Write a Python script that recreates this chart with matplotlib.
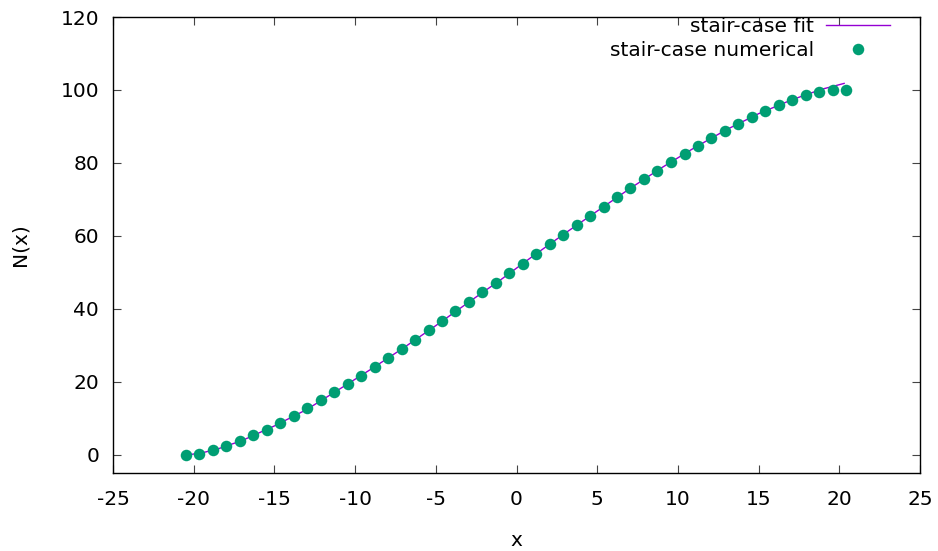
import matplotlib
matplotlib.use("Agg")
import matplotlib.pyplot as plt

# numerical stair-case
x_num = [-20.48, -19.67, -18.82, -17.99, -17.14, -16.32, -15.49, -14.64, -13.81, -12.96,
         -12.14, -11.30, -10.46, -9.63, -8.78, -7.98, -7.12, -6.30, -5.45, -4.62,
         -3.79, -2.96, -2.14, -1.29, -0.46, 0.39, 1.22, 2.05, 2.88, 3.73,
         4.57, 5.40, 6.23, 7.06, 7.91, 8.73, 9.57, 10.41, 11.24, 12.07,
         12.89, 13.75, 14.57, 15.40, 16.25, 17.08, 17.91, 18.73, 19.58, 20.41]
n_num = [0.0, 0.3, 1.3, 2.4, 3.8, 5.3, 6.9, 8.8, 10.7, 12.7,
         14.9, 17.1, 19.3, 21.7, 24.1, 26.5, 29.0, 31.5, 34.1, 36.6,
         39.3, 41.8, 44.5, 47.0, 49.7, 52.4, 55.1, 57.7, 60.3, 62.9,
         65.5, 68.0, 70.6, 73.1, 75.5, 77.9, 80.3, 82.5, 84.7, 86.9,
         88.8, 90.8, 92.6, 94.3, 95.9, 97.3, 98.5, 99.5, 100.0, 100.0]

# fitted curve
x_fit = [-20.5, -19.5, -18.5, -17.0, -15.0, -13.0, -11.0, -9.0, -7.0, -5.0, -3.0, -1.0,
         1.0, 3.0, 5.0, 7.0, 9.0, 11.0, 13.0, 15.0, 17.0, 18.0, 19.0, 19.7, 20.3]
n_fit = [-0.1, 0.5, 1.6, 3.9, 7.9, 12.4, 17.9, 23.5, 29.3, 35.4, 41.7, 47.9,
         54.4, 60.7, 66.8, 72.9, 78.7, 84.1, 89.1, 93.5, 97.2, 98.8, 100.3, 101.1, 101.8]

x_ticks = [-25, -20, -15, -10, -5, 0, 5, 10, 15, 20, 25]
y_ticks = [0, 20, 40, 60, 80, 100, 120]

plt.rcParams['font.family'] = ['DejaVu Sans']
plt.rcParams['axes.unicode_minus'] = False
fig = plt.figure(figsize=(9.38, 5.51), dpi=100)
ax = fig.add_axes([0.1205, 0.1416, 0.8603, 0.8275])

ax.plot(x_fit, n_fit, color="#9400d3", lw=1.0, label="stair-case fit", zorder=2)
ax.plot(x_num, n_num, ls="none", marker="o", ms=8.3, mew=0, color="#009e73",
        label="stair-case numerical", zorder=3)

ax.set_xlim(-25, 25)
ax.set_ylim(-5, 120)
ax.set_xticks(x_ticks)
ax.set_yticks(y_ticks)
ax.tick_params(direction="in", length=6, width=0.8, top=True, right=True,
               labelsize=14.5, pad=10, color="#444444")
ax.tick_params(axis="x", pad=12)
for s in ax.spines.values():
    s.set_linewidth(1.0)

ax.set_xlabel("x", fontsize=14.5, labelpad=16)
ax.set_ylabel("N(x)", fontsize=14.5, labelpad=22)

ax.legend(loc="upper right", frameon=False, markerfirst=False, fontsize=14.5,
          handlelength=3.2, handletextpad=0.6, labelspacing=0.25,
          borderaxespad=0.15, bbox_to_anchor=(0.977, 1.024))

fig.savefig("out.png", dpi=100)
